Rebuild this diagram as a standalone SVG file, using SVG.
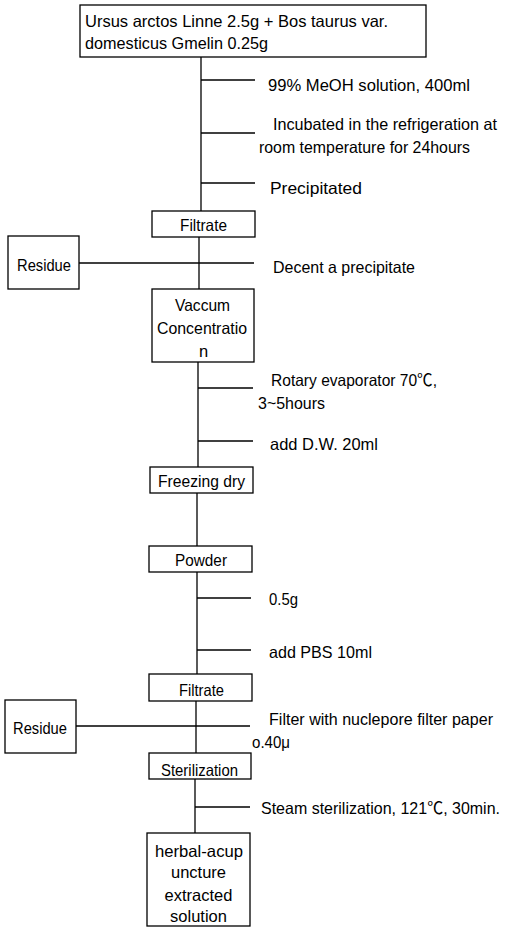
<svg xmlns="http://www.w3.org/2000/svg" width="506" height="928" viewBox="0 0 506 928">
<style>
  .box { fill: #ffffff; stroke: #000000; stroke-width: 1.3; }
  .ln { stroke: #000000; stroke-width: 1.3; fill: none; }
  text { font-family: "Liberation Sans", Arial, "Noto Sans CJK KR", sans-serif; font-size: 16.5px; fill: #000000; }
</style>
<rect width="506" height="928" fill="#ffffff"/>
<g id="connectors">
  <line class="ln" x1="201" y1="57" x2="201" y2="211"/>
  <line class="ln" x1="201" y1="80" x2="255" y2="80"/>
  <line class="ln" x1="201" y1="133" x2="255" y2="133"/>
  <line class="ln" x1="201" y1="183" x2="255" y2="183"/>
  <line class="ln" x1="199" y1="237" x2="199" y2="289"/>
  <line class="ln" x1="79" y1="263" x2="254" y2="263"/>
  <line class="ln" x1="198" y1="362" x2="198" y2="467"/>
  <line class="ln" x1="198" y1="388" x2="253" y2="388"/>
  <line class="ln" x1="198" y1="441" x2="253" y2="441"/>
  <line class="ln" x1="197" y1="493" x2="197" y2="546"/>
  <line class="ln" x1="197" y1="572" x2="197" y2="674"/>
  <line class="ln" x1="197" y1="598" x2="251" y2="598"/>
  <line class="ln" x1="197" y1="650" x2="251" y2="650"/>
  <line class="ln" x1="196" y1="701" x2="196" y2="753"/>
  <line class="ln" x1="76" y1="726" x2="250" y2="726"/>
  <line class="ln" x1="195" y1="779" x2="195" y2="833"/>
  <line class="ln" x1="195" y1="807" x2="250" y2="807"/>
</g>
<g id="labels">
  <text x="268" y="91" textLength="202" lengthAdjust="spacingAndGlyphs">99% MeOH solution, 400ml</text>
  <text x="273" y="130" textLength="224" lengthAdjust="spacingAndGlyphs">Incubated in the refrigeration at</text>
  <text x="259" y="153" textLength="211" lengthAdjust="spacingAndGlyphs">room temperature for 24hours</text>
  <text x="270" y="194" textLength="92" lengthAdjust="spacingAndGlyphs">Precipitated</text>
  <text x="273" y="273" textLength="142" lengthAdjust="spacingAndGlyphs">Decent a precipitate</text>
  <text x="271" y="386" textLength="166" lengthAdjust="spacingAndGlyphs">Rotary evaporator 70℃,</text>
  <text x="258" y="409" textLength="67" lengthAdjust="spacingAndGlyphs">3~5hours</text>
  <text x="270" y="450" textLength="108" lengthAdjust="spacingAndGlyphs">add D.W. 20ml</text>
  <text x="269" y="605" textLength="29" lengthAdjust="spacingAndGlyphs">0.5g</text>
  <text x="269" y="658" textLength="103" lengthAdjust="spacingAndGlyphs">add PBS 10ml</text>
  <text x="269" y="725" textLength="224" lengthAdjust="spacingAndGlyphs">Filter with nuclepore filter paper</text>
  <text x="252" y="748" textLength="38" lengthAdjust="spacingAndGlyphs">o.40μ</text>
  <text x="261" y="814" textLength="239" lengthAdjust="spacingAndGlyphs">Steam sterilization, 121℃, 30min.</text>
</g>
<g id="node-start">
  <rect class="box" x="80" y="5" width="346" height="52"/>
  <text x="85" y="27" textLength="303" lengthAdjust="spacingAndGlyphs">Ursus arctos Linne 2.5g + Bos taurus var.</text>
  <text x="85" y="49" textLength="183" lengthAdjust="spacingAndGlyphs">domesticus Gmelin 0.25g</text>
</g>
<g id="node-filtrate1">
  <rect class="box" x="152" y="211" width="103" height="26"/>
  <text x="180" y="231" textLength="47" lengthAdjust="spacingAndGlyphs">Filtrate</text>
</g>
<g id="node-residue1">
  <rect class="box" x="8" y="236" width="71" height="53"/>
  <text x="17" y="271" textLength="54" lengthAdjust="spacingAndGlyphs">Residue</text>
</g>
<g id="node-vaccum">
  <rect class="box" x="152" y="289" width="102" height="73"/>
  <text x="175" y="311" textLength="55" lengthAdjust="spacingAndGlyphs">Vaccum</text>
  <text x="157" y="334" textLength="90" lengthAdjust="spacingAndGlyphs">Concentratio</text>
  <text x="199" y="357">n</text>
</g>
<g id="node-freezing">
  <rect class="box" x="150" y="467" width="103" height="26"/>
  <text x="158" y="487" textLength="87" lengthAdjust="spacingAndGlyphs">Freezing dry</text>
</g>
<g id="node-powder">
  <rect class="box" x="149" y="546" width="103" height="26"/>
  <text x="175" y="566" textLength="52" lengthAdjust="spacingAndGlyphs">Powder</text>
</g>
<g id="node-filtrate2">
  <rect class="box" x="149" y="674" width="103" height="27"/>
  <text x="179" y="696" textLength="45" lengthAdjust="spacingAndGlyphs">Filtrate</text>
</g>
<g id="node-residue2">
  <rect class="box" x="5" y="700" width="71" height="53"/>
  <text x="13" y="734" textLength="54" lengthAdjust="spacingAndGlyphs">Residue</text>
</g>
<g id="node-sterilization">
  <rect class="box" x="149" y="753" width="102" height="26"/>
  <text x="161" y="776" textLength="77" lengthAdjust="spacingAndGlyphs">Sterilization</text>
</g>
<g id="node-final">
  <rect class="box" x="147" y="833" width="103" height="93"/>
  <text x="155" y="857" textLength="88" lengthAdjust="spacingAndGlyphs">herbal-acup</text>
  <text x="198.5" y="878" text-anchor="middle">uncture</text>
  <text x="198.5" y="901" text-anchor="middle">extracted</text>
  <text x="198.5" y="922" text-anchor="middle">solution</text>
</g>
</svg>
